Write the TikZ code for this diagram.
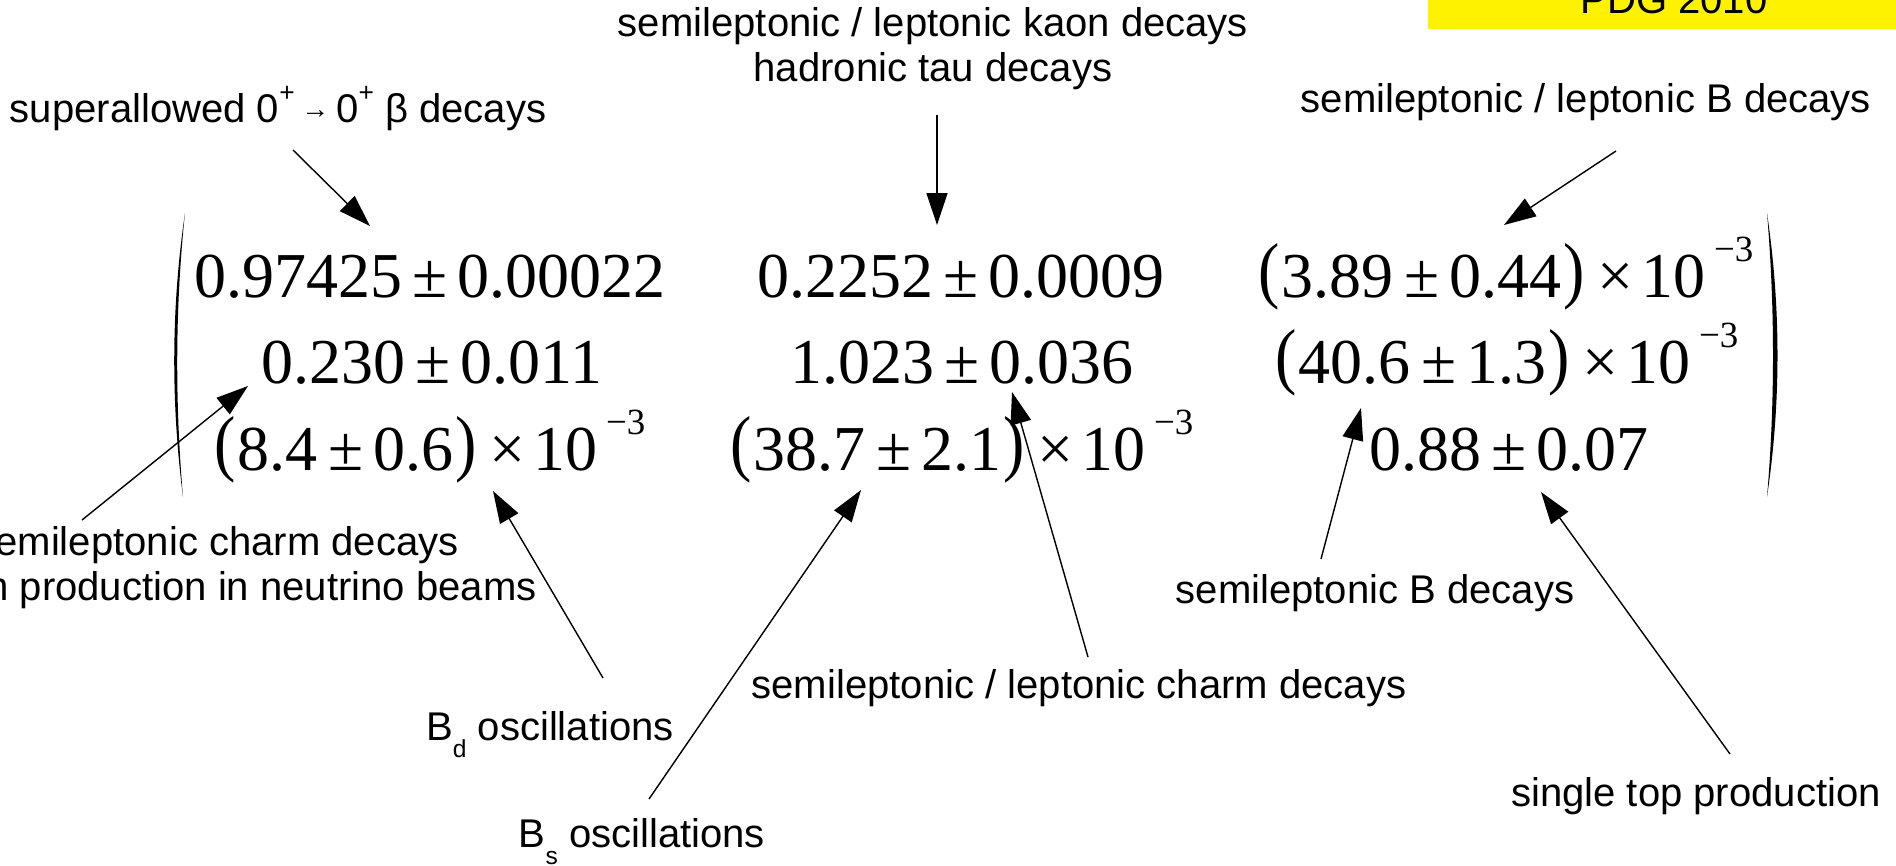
\documentclass[tikz,border=0pt]{standalone}
\usepackage{fontspec}
\usepackage{graphicx}
\setmainfont{Liberation Sans}
\newfontfamily\numfont{Liberation Serif}
\usepackage{tikz}
\usetikzlibrary{arrows.meta}
\newcommand{\pmm}{\hspace{0.16em}±\hspace{0.16em}}
\newcommand{\lpar}{\raisebox{0.04em}{\scalebox{1}[1.15]{(}}\hspace{0.03em}}
\newcommand{\rpar}{\hspace{0.03em}\raisebox{0.04em}{\scalebox{1}[1.15]{)}}}
\newcommand{\tenm}{\hspace{0.2em}×\hspace{0.12em}10\hspace{0.14em}\raisebox{0.56em}{\fontsize{10.5}{12}\selectfont −3}}
\newcommand{\lowsub}[1]{\raisebox{-0.43em}{\fontsize{7}{8}\selectfont #1}}
\newcommand{\smallsup}[1]{\raisebox{0.5em}{\fontsize{7.5}{8}\selectfont #1}}

\begin{document}
\begin{tikzpicture}[
    lbl/.style={font=\fontsize{11.4}{12.8}\selectfont, inner sep=0pt, anchor=base, align=center},
    entry/.style={font=\numfont\fontsize{18.2}{20}\selectfont, inner sep=0pt, anchor=base},
    arr/.style={-{Triangle[length=3.2mm,width=2.1mm]}, line width=0.4pt}]
      \useasboundingbox (0, 0) rectangle (18.96, -8.65);

      % the year tag, cut by the top edge
      \fill[yellow] (14.28, 0.5) rectangle (19.2, -0.29);
      \node[lbl] (pdg) at (16.74, -0.13) {PDG 2010};

      % the matrix
      \node[entry] (vud) at (4.30, -2.97) {0.97425\pmm0.00022};
      \node[entry] (vus) at (9.61, -2.97) {0.2252\pmm0.0009};
      \node[entry] (vub) at (15.06, -2.97) {\lpar3.89\pmm0.44\rpar\tenm};
      \node[entry] (vcd) at (4.32, -3.83) {0.230\pmm0.011};
      \node[entry] (vcs) at (9.62, -3.83) {1.023\pmm0.036};
      \node[entry] (vcb) at (15.07, -3.83) {\lpar40.6\pmm1.3\rpar\tenm};
      \node[entry] (vtd) at (4.30, -4.70) {\lpar8.4\pmm0.6\rpar\tenm};
      \node[entry] (vts) at (9.62, -4.70) {\lpar38.7\pmm2.1\rpar\tenm};
      \node[entry] (vtb) at (15.09, -4.70) {0.88\pmm0.07};

      \fill (1.85, -2.13) .. controls (1.71, -3.08) and (1.71, -4.03) .. (1.83, -4.97)
            .. controls (1.75, -4.03) and (1.75, -3.08) .. (1.85, -2.13);
      \fill (17.67, -2.13) .. controls (17.81, -3.08) and (17.81, -4.03) .. (17.67, -4.97)
            .. controls (17.75, -4.03) and (17.75, -3.08) .. (17.67, -2.13);

      % the measurements
      \node[lbl] (sup) at (2.78, -1.22) {superallowed 0\smallsup{+}\,\raisebox{0.1em}{\fontsize{8}{8}\selectfont →}\,0\smallsup{+} β decays};
      \node[lbl] (kaon) at (9.33, -0.81) {semileptonic / leptonic kaon decays\\hadronic tau decays};
      \node[lbl] (bdec) at (15.86, -1.12) {semileptonic / leptonic B decays};
      \node[lbl] (chml) at (2.17, -6.00) {semileptonic charm decays\\charm production in neutrino beams};
      \node[lbl] (bdosc) at (5.50, -7.40) {B\lowsub{d} oscillations};
      \node[lbl] (bsosc) at (6.42, -8.47) {B\lowsub{s} oscillations};
      \node[lbl] (chmr) at (10.79, -6.98) {semileptonic / leptonic charm decays};
      \node[lbl] (bsemi) at (13.75, -6.03) {semileptonic B decays};
      \node[lbl] (stop) at (16.96, -8.06) {single top production};

      \coordinate (supfrom) at (2.93, -1.50);
      \coordinate (vudto) at (3.70, -2.26);
      \coordinate (kaonfrom) at (9.37, -1.15);
      \coordinate (vusto) at (9.37, -2.25);
      \coordinate (bdecfrom) at (16.16, -1.51);
      \coordinate (vubto) at (15.04, -2.25);
      \coordinate (chmlfrom) at (0.82, -5.20);
      \coordinate (vcdto) at (2.48, -3.86);
      \coordinate (bdoscfrom) at (6.03, -6.78);
      \coordinate (vtdto) at (4.93, -4.91);
      \coordinate (bsoscfrom) at (6.49, -7.99);
      \coordinate (vtsto) at (8.61, -4.90);
      \coordinate (chmrfrom) at (10.88, -6.57);
      \coordinate (vcsto) at (10.12, -3.92);
      \coordinate (bsemifrom) at (13.21, -5.59);
      \coordinate (vcbto) at (13.61, -4.08);
      \coordinate (stopfrom) at (17.30, -7.54);
      \coordinate (vtbto) at (15.41, -4.92);

      \draw[arr] (supfrom) -- (vudto);
      \draw[arr] (kaonfrom) -- (vusto);
      \draw[arr] (bdecfrom) -- (vubto);
      \draw[arr] (chmlfrom) -- (vcdto);
      \draw[arr] (bdoscfrom) -- (vtdto);
      \draw[arr] (bsoscfrom) -- (vtsto);
      \draw[arr] (chmrfrom) -- (vcsto);
      \draw[arr] (bsemifrom) -- (vcbto);
      \draw[arr] (stopfrom) -- (vtbto);

    \end{tikzpicture}
\end{document}
